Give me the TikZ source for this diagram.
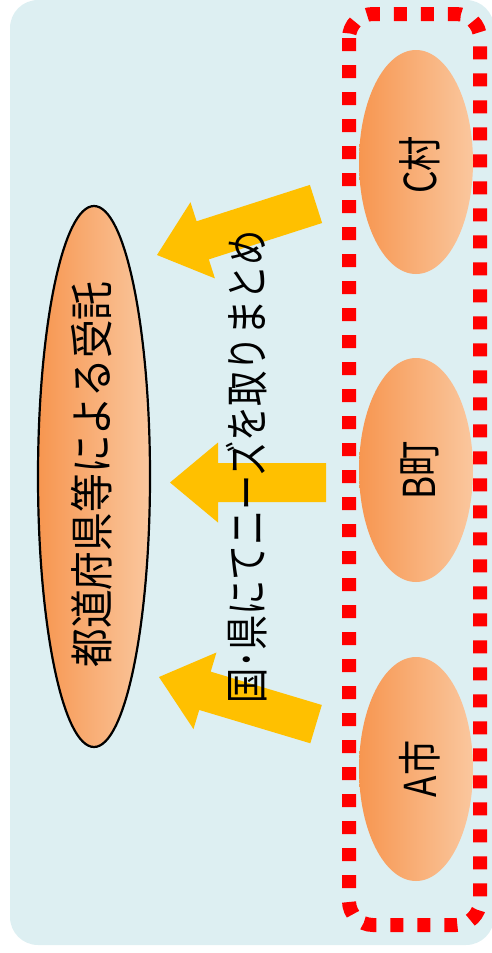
\documentclass[tikz,border=0pt]{standalone}
\usepackage{fontspec}
\newfontfamily\jp{Noto Sans CJK JP}
\usetikzlibrary{shapes.geometric}
\definecolor{bgc}{RGB}{221,239,242}
\definecolor{orL}{RGB}{247,150,80}
\definecolor{orR}{RGB}{250,199,158}
\definecolor{arrowc}{RGB}{255,192,0}
\newcommand\vtext[2][0.8]{\rotatebox{90}{\scalebox{#1}[1]{\fontsize{44}{44}\selectfont #2}}}
\begin{document}
\begin{tikzpicture}[x=1pt,y=1pt,
  blob/.style={ellipse, inner sep=0pt, left color=orL, right color=orR, draw=none},
  jtext/.style={inner sep=0pt, font=\jp},
  barrow/.style={fill=arrowc, draw=none}]
\useasboundingbox (0,0) rectangle (492,-953);
% background
\fill[bgc, rounded corners=28pt] (10,0) rectangle (494,-945);
% red dashed group frame
\draw[red, line width=14pt, dash pattern=on 13pt off 14pt, rounded corners=24pt]
  (349,-14) rectangle (480,-925);
% ellipses
\node[blob, minimum width=114pt, minimum height=224pt] (C) at (416,-162) {};
\node[blob, minimum width=114pt, minimum height=224pt] (B) at (416,-470) {};
\node[blob, minimum width=114pt, minimum height=224pt] (A) at (416,-769) {};
\node[blob, draw=black, line width=2.2pt, minimum width=112pt, minimum height=541pt] (P) at (94,-476.5) {};
% block arrows
\fill[barrow, shift={(157,-255)}, rotate=17.8]
  (0,0) -- (48,40) -- (48,20) -- (167,20) -- (167,-20) -- (48,-20) -- (48,-40) -- cycle;
\fill[barrow, shift={(170,-482.5)}]
  (0,0) -- (48,40) -- (48,19.5) -- (156,19.5) -- (156,-19.5) -- (48,-19.5) -- (48,-40) -- cycle;
\fill[barrow, shift={(159,-677)}, rotate=-16.7]
  (0,0) -- (48,40) -- (48,20) -- (164,20) -- (164,-20) -- (48,-20) -- (48,-40) -- cycle;
% texts
\node[jtext] (Ct) at ([xshift=4pt,yshift=-3pt]C.center) {\vtext{C村}};
\node[jtext] (Bt) at ([xshift=4pt]B.center) {\vtext{B町}};
\node[jtext] (At) at ([xshift=4pt]A.center) {\vtext{A市}};
\node[jtext] (Pt) at ([xshift=-2pt,yshift=2pt]P.center) {\vtext[0.88]{都道府県等による受託}};
\node[jtext] (M) at (247,-467) {\vtext[0.8]{国･県にてニーズを取りまとめ}};
\end{tikzpicture}
\end{document}
